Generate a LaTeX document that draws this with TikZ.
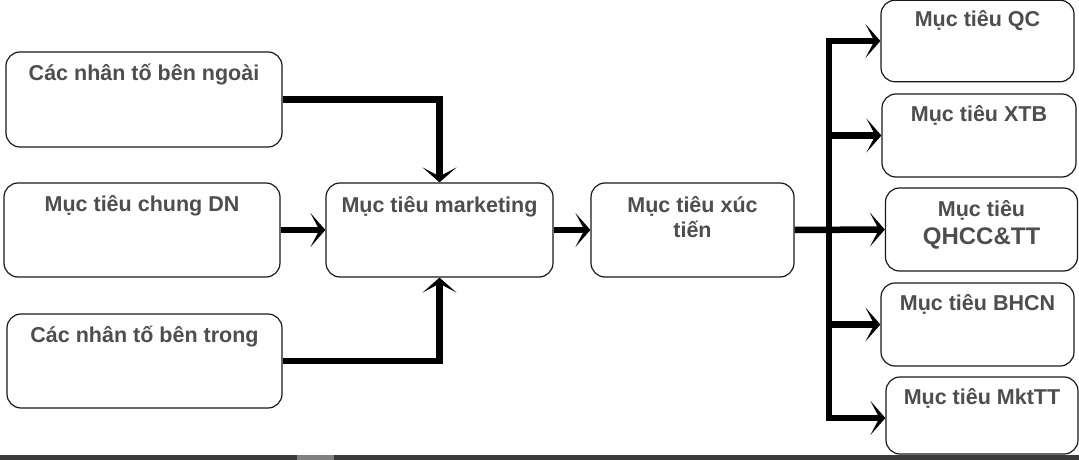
\documentclass[tikz,border=0pt]{standalone}
\usepackage{fontspec}
\setmainfont{Liberation Sans}
\usetikzlibrary{arrows.meta,calc}
\definecolor{txtgray}{RGB}{78,78,78}
\definecolor{bargray}{RGB}{58,58,58}
\definecolor{barlight}{RGB}{128,128,128}
\tikzset{
  box/.style={draw=black!90, line width=1.2pt, rounded corners=14pt, fill=white, inner sep=0pt},
  lbl/.style={anchor=base, text=txtgray, font=\fontsize{21.5}{25}\selectfont\bfseries, align=center, inner sep=0pt},
  conn/.style={line width=6.5pt, -{Stealth[length=15pt,width=34pt,inset=9pt]}},
}
\begin{document}
\begin{tikzpicture}[x=1pt,y=-1pt]
\useasboundingbox (0,0) rectangle (1079,460);
\fill[white] (0,0) rectangle (1079,460);
% left column
\node[box, minimum width=276pt, minimum height=95pt] (b1) at (144,99.5) {};
\node[box, minimum width=276pt, minimum height=94pt] (b2) at (142,230) {};
\node[box, minimum width=275pt, minimum height=94pt] (b3) at (144.5,361) {};
% middle
\node[box, minimum width=227pt, minimum height=94pt] (mk) at (439.5,230) {};
\node[box, minimum width=203pt, minimum height=94pt] (xt) at (692.5,230) {};
% right column
\node[box, minimum width=193pt, minimum height=81.5pt] (qc) at (977.5,41) {};
\node[box, minimum width=194pt, minimum height=83pt] (xtb) at (979,135.5) {};
\node[box, minimum width=192pt, minimum height=83pt] (qh) at (981.5,229.5) {};
\node[box, minimum width=193pt, minimum height=83pt] (bh) at (977.5,324.5) {};
\node[box, minimum width=192pt, minimum height=77pt] (mt) at (982,415.5) {};
% labels (base anchor = baseline of last line)
\node[lbl] (t1) at ($(b1.north)+(0,29)$) {Các nhân tố bên ngoài};
\node[lbl] (t2) at ($(b2.north)+(0,29)$) {Mục tiêu chung DN};
\node[lbl] (t3) at ($(b3.north)+(0,29)$) {Các nhân tố bên trong};
\node[lbl] (tmk) at ($(mk.north)+(0,30)$) {Mục tiêu marketing};
\node[lbl] (txt) at ($(xt.north)+(0,55)$) {Mục tiêu xúc\\tiến};
\node[lbl] (tqc) at ($(qc.north)+(0,27)$) {Mục tiêu QC};
\node[lbl] (txtb) at ($(xtb.north)+(0,28)$) {Mục tiêu XTB};
\node[lbl, font=\fontsize{21.5}{28}\selectfont\bfseries] (tqh) at ($(qh.north)+(0,57)$) {Mục tiêu\\{\fontsize{24}{28}\selectfont QHCC\&TT}};
\node[lbl] (tbh) at ($(bh.north)+(0,28)$) {Mục tiêu BHCN};
\node[lbl] (tmt) at ($(mt.north)+(0,28)$) {Mục tiêu MktTT};
% connectors
\draw[conn] (b1.east) -| (mk.north);
\draw[conn] (b3.east) -| (mk.south);
\draw[conn] (b2.east) -- (mk.west);
\draw[conn] (mk.east) -- (xt.west);
\coordinate (bx) at (829,230);
\draw[conn] (xt.east) -- (qh.west);
\draw[conn] (bx |- qh.west) |- (qc.west);
\draw[conn] (bx |- qh.west) |- ($(mt.west)+(0,2.5)$);
\draw[conn] (bx |- xtb.west) -- (xtb.west);
\draw[conn] (bx |- bh.west) -- (bh.west);
% bottom bar
\fill[bargray] (0,454.5) rectangle (1079,460);
\fill[barlight] (297,454.5) rectangle (334,460);
\end{tikzpicture}
\end{document}
